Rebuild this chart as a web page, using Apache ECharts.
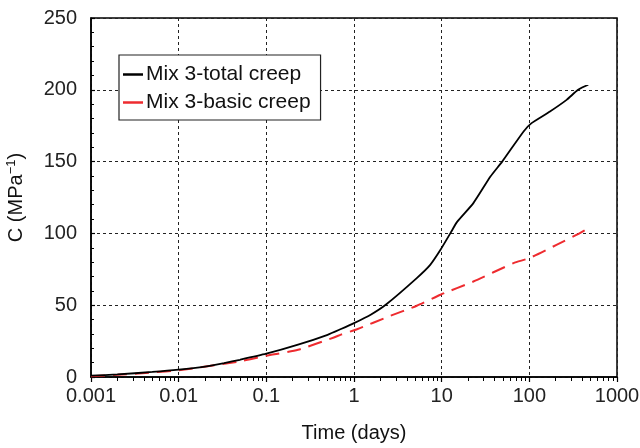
<!DOCTYPE html>
<html>
<head>
<meta charset="utf-8">
<script src="https://cdn.jsdelivr.net/npm/echarts@6/dist/echarts.min.js"></script>
<style>html,body{margin:0;padding:0;background:#fff}#c{width:640px;height:448px}</style>
</head>
<body>
<div id="c"></div>
<script>
const seriesNames = ['Mix 3-total creep', 'Mix 3-basic creep'];
const totalTime = [0.001, 0.002, 0.005, 0.01, 0.02, 0.033, 0.05, 0.1, 0.23, 0.5, 0.71, 1.0, 1.55, 2.3, 5.2, 7.4, 9.7, 12.6, 15, 23, 36, 49, 86, 106, 172, 266, 360, 470];
const totalC    = [0.9, 1.8, 3.5, 5.1, 7.3, 9.7, 12.0, 16.2, 22.5, 29.4, 33.4, 37.5, 43.4, 50.3, 68.9, 78.1, 88.6, 100.2, 108, 121.1, 139.6, 150, 171, 176.8, 184.9, 193, 200, 203.5];
const basicTime = [0.001, 0.002, 0.005, 0.01, 0.05, 0.1, 0.23, 0.59, 0.71, 1.1, 2.5, 5.2, 9.7, 23, 66, 100, 204, 377, 470];
const basicC    = [0.5, 1.5, 3.2, 4.6, 10.9, 14.8, 19, 27.5, 29.5, 33.4, 42.2, 49.6, 57.3, 66.5, 79.3, 82.8, 92, 100.2, 103.7];
const yTicks = [0, 50, 100, 150, 200, 250];
const xTicks = [0.001, 0.01, 0.1, 1, 10, 100, 1000];

const FONT = 'Liberation Sans, Arial, Helvetica, sans-serif';
const chart = echarts.init(document.getElementById('c'), null, {renderer: 'canvas'});
const zip = (a, b) => a.map((v, i) => [v, b[i]]);

chart.setOption({
  animation: false,
  backgroundColor: '#fff',
  grid: {left: 91, right: 23, top: 18, bottom: 71, containLabel: false, outerBoundsMode: 'none',
    show: true, borderColor: '#000', borderWidth: 1.5, backgroundColor: 'transparent'},
  legend: {
    left: 119, top: 55, orient: 'vertical',
    borderColor: '#222', borderWidth: 1.2, backgroundColor: '#fff',
    padding: [9, 10, 7, 4], itemGap: 7, itemWidth: 20, itemHeight: 2.5,
    textStyle: {fontFamily: FONT, fontSize: 21, color: '#111', padding: [0, 0, 0, -2]},
    data: seriesNames.map(n => ({name: n, icon: 'rect'}))
  },
  xAxis: {
    type: 'log', logBase: 10, min: xTicks[0], max: xTicks[xTicks.length - 1],
    name: 'Time (days)', nameLocation: 'middle', nameGap: 46,
    nameTextStyle: {fontFamily: FONT, fontSize: 20, color: '#111'},
    axisLine: {show: true, lineStyle: {color: '#000', width: 1.5}},
    axisTick: {show: true, inside: false, length: 5, lineStyle: {color: '#000', width: 1.2}},
    minorTick: {show: true, splitNumber: 9, length: 4, lineStyle: {color: '#000', width: 1}},
    axisLabel: {fontFamily: FONT, fontSize: 20, color: '#222', margin: 9,
      formatter: v => String(+(+v).toPrecision(3))},
    splitLine: {show: true, lineStyle: {color: '#222', width: 1, type: [3, 3]}},
    minorSplitLine: {show: false}
  },
  yAxis: {
    type: 'value', min: yTicks[0], max: yTicks[yTicks.length - 1], interval: 50,
    name: 'C (MPa{sup|−1})', nameLocation: 'middle', nameGap: 64, nameRotate: 90,
    nameTextStyle: {fontFamily: FONT, fontSize: 20, color: '#111',
      rich: {sup: {fontFamily: FONT, fontSize: 13, color: '#111', padding: [0, 0, 9, 0]}}},
    axisLine: {show: true, lineStyle: {color: '#000', width: 1.5}},
    axisTick: {show: true, inside: true, length: 4, lineStyle: {color: '#000', width: 1.2}},
    minorTick: {show: true, splitNumber: 5, length: 3, lineStyle: {color: '#000', width: 1}},
    axisLabel: {fontFamily: FONT, fontSize: 20, color: '#222', margin: 14},
    splitLine: {show: true, lineStyle: {color: '#222', width: 1, type: [3, 3]}}
  },
  series: [
    {name: seriesNames[0], type: 'line', data: zip(totalTime, totalC), showSymbol: false, symbol: 'none', smooth: 0.2,
     lineStyle: {color: '#000', width: 1.8}, itemStyle: {color: '#000'}, z: 3},
    {name: seriesNames[1], type: 'line', data: zip(basicTime, basicC), showSymbol: false, symbol: 'none', smooth: 0.2,
     lineStyle: {color: '#ee2b2f', width: 2, type: [14, 8]}, itemStyle: {color: '#ee2b2f'}, z: 2}
  ]
});
</script>
</body>
</html>
